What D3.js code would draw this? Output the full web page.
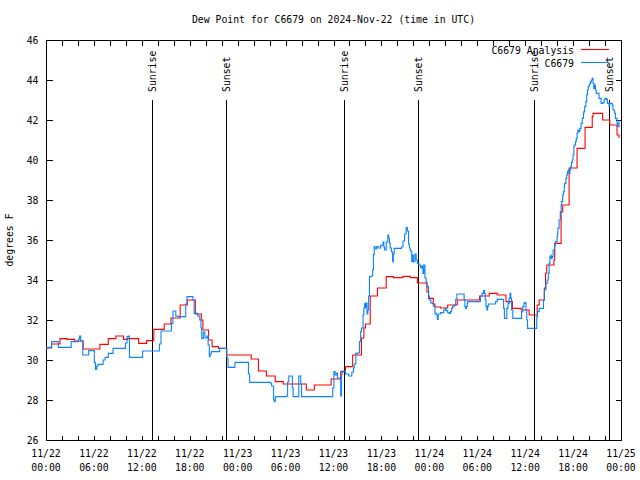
<!DOCTYPE html>
<html>
<head>
<meta charset="utf-8">
<script src="https://cdn.jsdelivr.net/npm/d3@7"></script>
<style>
  html, body { margin: 0; padding: 0; background: #fff; }
  svg { display: block; }
  text { font-family: "DejaVu Sans Mono", "Liberation Mono", monospace; font-size: 9.8px; fill: #000; }
</style>
</head>
<body>
<svg id="chart" width="640" height="480"></svg>
<script>
// ---------------- DATA ----------------
const chartTitle = "Dew Point for C6679 on 2024-Nov-22 (time in UTC)";
const yAxisLabel = "degrees F";
const seriesNames = ["C6679 Analysis", "C6679"];
const startTime = Date.UTC(2024, 10, 22, 0, 0); // hours are offsets from this
const spanHours = 72;
const yTicks = [26, 28, 30, 32, 34, 36, 38, 40, 42, 44, 46];
const xMinorHours = d3.range(0, 73, 2);
const xLabelHours = [0, 6, 12, 18, 24, 30, 36, 42, 48, 54, 60, 66, 72];

const sunLabels = ["Sunrise", "Sunset", "Sunrise", "Sunset", "Sunrise", "Sunset"];
const sunHours = [13.33, 22.54, 37.29, 46.54, 61.16, 70.54];

// [hour offset, dew point F]
const analysisData = [
  [0,30.6],[0.7,30.8],[1.75,31.07],[2.6,31.03],[3.6,30.95],[4.65,30.55],[6.75,30.78],
  [7.8,31.07],[8.75,31.2],[9.7,31.03],[10.2,31.07],[11.6,30.83],[12.6,30.97],[13.5,31.53],
  [14.8,31.8],[15.65,32.1],[16.8,32.75],[17.7,33.0],[18.7,32.3],[19.45,32.0],[19.65,31.5],
  [20.35,31.0],[20.8,30.67],[21.6,30.58],[22.6,30.25],[25.7,30.05],[26.6,29.45],[27.6,29.2],
  [28.7,28.92],[29.7,28.8],[32.6,28.5],[33.6,28.75],[35.7,29.05],[36.9,29.42],[37.5,29.67],
  [38.4,30.25],[39.5,31.1],[39.8,31.6],[40.0,31.8],[40.6,33.2],[41.5,33.6],[42.6,34.17],
  [43.5,34.12],[44.7,34.18],[45.6,34.12],[46.5,33.85],[47.7,33.4],[47.9,33.08],[48.5,32.8],
  [48.7,32.65],[49.4,32.6],[50.3,32.75],[51.5,33.0],[54.3,33.2],[55.5,33.33],[56.5,33.25],
  [57.6,32.92],[58.4,32.58],[59.5,32.5],[60.5,32.25],[61.5,32.75],[61.75,33.0],[62.4,33.6],
  [62.55,34.35],[62.7,34.75],[63.6,35.0],[63.7,35.83],[64.5,37.4],[64.7,37.75],[65.5,39.6],
  [66.5,40.58],[67.5,41.63],[68.4,42.17],[68.5,42.33],[69.7,42.0],[70.6,41.75],[71.5,41.25],
  [71.75,41.1]
];

const observedData = [
  [0,30.63],[0.7,30.92],[1.55,30.63],[3.15,30.92],[4.05,31.05],[4.2,31.2],[4.35,30.95],
  [4.6,30.25],[5.35,30.47],[6.05,29.87],[6.2,29.53],[6.35,29.7],[6.5,29.78],[7.15,30.0],
  [7.4,30.13],[7.8,30.33],[8.4,30.58],[9.95,30.85],[10.15,31.17],[10.3,31.2],[10.45,30.13],
  [12.1,30.45],[14.2,30.8],[14.4,31.45],[15.7,31.83],[15.9,32.45],[16.25,32.2],[16.5,32.17],
  [17.5,32.8],[17.65,33.17],[18.4,33.0],[18.55,32.33],[19.0,32.2],[19.25,32.0],[19.4,31.6],
  [19.5,31.08],[19.7,31.4],[19.9,31.1],[20.15,31.2],[20.3,30.75],[20.45,30.17],[20.55,30.3],
  [20.7,30.42],[21.75,30.58],[22.65,30.1],[22.8,29.63],[23.65,29.85],[23.75,29.88],[25.35,29.3],
  [25.5,28.88],[28.1,28.85],[28.25,28.7],[28.5,28.0],[28.6,27.92],[28.7,28.1],[28.75,28.17],
  [30.1,28.2],[30.25,28.9],[30.4,29.2],[30.75,29.2],[30.85,28.6],[30.95,28.17],[31.6,28.17],
  [31.65,29.2],[31.8,29.2],[31.9,28.8],[32.0,28.17],[35.75,28.17],[35.9,28.6],[36.05,29.42],
  [36.2,29.25],[36.4,29.35],[36.5,29.1],[36.85,29.1],[36.9,28.2],[37.0,29.3],[37.1,29.45],
  [37.5,29.3],[37.9,29.2],[38.3,29.4],[38.5,29.6],[38.6,29.8],[38.8,30.33],[39.0,30.35],
  [39.25,30.92],[39.4,31.42],[39.5,31.6],[39.7,32.25],[39.8,32.6],[39.9,32.83],[40.0,32.6],
  [40.1,32.85],[40.2,32.3],[40.3,32.5],[40.4,33.2],[40.5,34.17],[40.7,34.2],[40.9,34.5],
  [41.0,35.28],[41.1,35.67],[41.2,35.55],[41.4,35.67],[41.6,35.6],[41.9,35.72],[42.05,35.75],
  [42.2,35.9],[42.3,35.65],[42.4,35.5],[42.6,35.9],[42.8,36.25],[42.9,36.1],[43.0,35.85],
  [43.1,35.6],[43.25,35.4],[43.4,34.92],[43.5,35.3],[43.6,35.58],[44.4,35.58],[44.5,35.65],
  [44.7,35.95],[44.9,36.3],[45.1,36.62],[45.25,36.45],[45.4,35.8],[45.5,35.6],[45.6,35.45],
  [45.8,34.92],[45.9,35.25],[46.0,34.92],[46.2,35.3],[46.35,35.0],[46.5,34.83],[46.7,34.75],
  [46.9,34.6],[47.05,34.7],[47.2,34.33],[47.3,34.75],[47.45,34.1],[47.6,33.9],[47.7,33.67],
  [47.9,33.2],[48.0,33.0],[48.2,32.85],[48.35,32.83],[48.5,32.7],[48.7,32.33],[48.85,32.25],
  [49.0,32.03],[49.1,32.3],[49.4,32.37],[49.8,32.5],[50.0,32.58],[50.1,32.47],[50.3,32.37],
  [50.5,32.33],[50.65,32.42],[50.8,32.58],[50.9,32.67],[51.1,32.75],[51.3,33.03],[51.45,33.3],
  [52.25,33.3],[52.35,33.03],[52.45,32.67],[52.55,32.58],[52.65,32.67],[52.75,32.83],
  [52.8,32.92],[54.3,32.92],[54.4,33.2],[54.6,33.33],[54.8,33.47],[54.9,33.33],[55.0,33.0],
  [55.1,32.67],[55.2,32.5],[55.3,32.7],[55.4,32.8],[56.1,32.8],[56.3,32.92],[56.5,33.03],
  [57.2,33.03],[57.3,32.58],[57.4,32.08],[57.6,32.08],[57.7,32.58],[57.85,32.83],[58.0,33.08],
  [58.1,33.33],[58.2,33.08],[58.3,32.5],[58.45,32.08],[59.45,32.08],[59.55,32.42],[59.7,32.67],
  [59.85,32.83],[59.95,32.87],[60.1,32.5],[60.2,32.0],[60.3,31.58],[61.3,31.58],[61.45,32.17],
  [61.55,32.42],[61.75,32.58],[62.2,32.58],[62.3,33.0],[62.4,33.5],[62.6,33.83],[62.75,34.0],
  [62.9,34.33],[63.0,34.83],[63.1,35.17],[63.2,35.25],[63.25,35.08],[63.4,35.17],[63.5,35.5],
  [63.7,35.75],[63.8,35.92],[64.0,36.17],[64.05,36.33],[64.1,36.58],[64.25,37.0],[64.4,37.42],
  [64.5,37.75],[64.55,37.92],[64.7,38.25],[64.8,38.42],[64.9,38.67],[64.95,38.83],[65.1,39.08],
  [65.2,39.25],[65.3,39.42],[65.4,39.5],[65.5,39.33],[65.6,39.5],[65.7,39.67],[65.8,39.87],
  [65.9,40.0],[66.0,40.25],[66.1,40.67],[66.15,40.75],[66.3,40.92],[66.4,41.08],[66.5,41.33],
  [66.6,41.5],[66.75,41.42],[66.85,41.58],[67.0,41.83],[67.15,42.08],[67.3,42.33],[67.35,42.42],
  [67.45,42.67],[67.6,42.92],[67.7,43.25],[67.8,43.5],[67.9,43.67],[68.0,43.75],[68.1,43.83],
  [68.2,43.92],[68.3,44.0],[68.4,44.08],[68.5,43.83],[68.6,43.58],[68.7,43.75],[68.8,43.5],
  [68.9,43.33],[69.1,43.33],[69.25,43.08],[69.5,42.83],[69.7,42.87],[69.9,43.0],[70.0,43.08],
  [70.2,43.03],[70.3,42.83],[70.5,42.67],[70.6,42.83],[70.8,42.83],[70.9,42.75],[71.0,42.5],
  [71.2,42.33],[71.3,42.08],[71.5,41.83],[71.6,41.67],[71.75,42.0]
];

const seriesColors = ["#ff0000", "#0a84ff"];

// ---------------- CHART ----------------
const svg = d3.select("#chart");
const L = 46, R = 621, T = 40, B = 440;
const toDate = h => new Date(startTime + h * 3600e3);

const x = d3.scaleUtc().domain([toDate(0), toDate(spanHours)]).range([L, R]);
const y = d3.scaleLinear().domain([26, 46]).range([B, T]);

svg.append("rect").attr("width", 640).attr("height", 480).attr("fill", "#fff");

// title
svg.append("text").attr("x", (L + R) / 2).attr("y", 23)
  .attr("text-anchor", "middle").text(chartTitle);

// y label
svg.append("text").attr("transform", "translate(13,240) rotate(-90)")
  .attr("text-anchor", "middle").text(yAxisLabel);

svg.append("clipPath").attr("id", "plotclip")
  .append("rect").attr("x", L).attr("y", T).attr("width", R - L).attr("height", B - T);

// axes (ticks inward)
const axisStyle = g => {
  g.select(".domain").remove();
  g.selectAll(".tick line").attr("stroke", "#000").attr("shape-rendering", "crispEdges");
  g.selectAll("text").style("font-family", "'DejaVu Sans Mono', monospace").style("font-size", "9.8px").attr("fill", "#000");
};

svg.append("g").attr("transform", `translate(${L + 0.5},0)`)
  .call(d3.axisLeft(y).tickValues(yTicks).tickSize(-6).tickPadding(8).tickFormat(d3.format("d")))
  .call(axisStyle);
svg.append("g").attr("transform", `translate(${R + 0.5},0)`)
  .call(d3.axisRight(y).tickValues(yTicks).tickSize(-6).tickFormat(""))
  .call(axisStyle);
svg.append("g").attr("transform", `translate(0,${B + 0.5})`)
  .call(d3.axisBottom(x).tickValues(xMinorHours.map(toDate)).tickSize(-5).tickFormat(""))
  .call(axisStyle);
svg.append("g").attr("transform", `translate(0,${T + 0.5})`)
  .call(d3.axisTop(x).tickValues(xMinorHours.map(toDate)).tickSize(-5).tickFormat(""))
  .call(axisStyle);

// x labels (two lines)
const fmtDate = d3.utcFormat("%m/%d"), fmtTime = d3.utcFormat("%H:%M");
const xl = svg.append("g").selectAll("g").data(xLabelHours).join("g")
  .attr("transform", h => `translate(${x(toDate(h))},0)`);
xl.append("text").attr("y", 457).attr("text-anchor", "middle").text(h => fmtDate(toDate(h)));
xl.append("text").attr("y", 471).attr("text-anchor", "middle").text(h => fmtTime(toDate(h)));

// frame
svg.append("rect").attr("x", L + 0.5).attr("y", T + 0.5).attr("width", R - L).attr("height", B - T)
  .attr("fill", "none").attr("stroke", "#000").attr("shape-rendering", "crispEdges");

// sunrise/sunset markers
const sun = svg.append("g").selectAll("g").data(sunHours).join("g")
  .attr("transform", h => `translate(${Math.round(x(toDate(h))) + 0.5},0)`);
sun.append("line").attr("y1", 100).attr("y2", B).attr("stroke", "#000").attr("stroke-width", 1)
  .attr("shape-rendering", "crispEdges");
sun.append("text").attr("transform", "translate(0.5,92) rotate(-90)")
  .attr("dominant-baseline", "middle").attr("text-anchor", "start")
  .text((h, i) => sunLabels[i]);

// series lines
const line = d3.line().x(d => x(toDate(d[0]))).y(d => y(d[1])).curve(d3.curveStepAfter);
const plot = svg.append("g").attr("clip-path", "url(#plotclip)");
[analysisData, observedData].forEach((data, i) => {
  plot.append("path").datum(data).attr("d", line)
    .attr("fill", "none").attr("stroke", seriesColors[i]).attr("stroke-width", 1.1);
});

// legend
const legRows = [53.5, 66.5];
seriesNames.forEach((name, i) => {
  svg.append("text").attr("x", 574).attr("y", legRows[i]).attr("text-anchor", "end").text(name);
  svg.append("line").attr("x1", 581).attr("x2", 609).attr("y1", legRows[i] - 4).attr("y2", legRows[i] - 4)
    .attr("stroke", seriesColors[i]).attr("stroke-width", 1.1);
});
</script>
</body>
</html>
